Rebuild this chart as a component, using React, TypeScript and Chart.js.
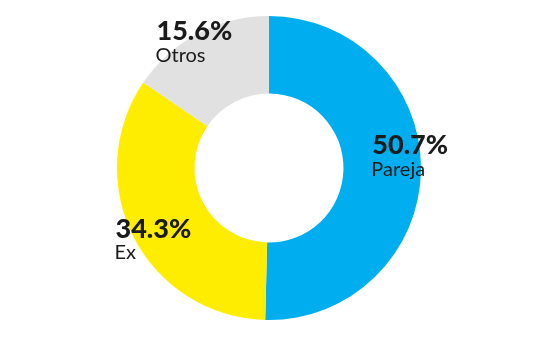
import React, { useEffect, useRef } from "react";
import { Chart, registerables } from "chart.js";

Chart.register(...registerables);

const categories = ["Pareja", "Ex", "Otros"];
const values = [50.7, 34.3, 15.6];
const valueLabels = ["50.7%", "34.3%", "15.6%"];
const colors = ["#00AEEF", "#FFED00", "#E1E1E2"];
// label anchor offsets relative to chart centre, in units of outer radius
const labelOffsets = [
  [0.68, -0.15],
  [-1.01, 0.4],
  [-0.74, -0.9],
];

const labelPlugin = {
  id: "sliceLabels",
  afterDatasetsDraw(chart: any) {
    const meta = chart.getDatasetMeta(0);
    const arc = meta.data[0];
    if (!arc) return;
    const { x, y, outerRadius } = arc.getProps(["x", "y", "outerRadius"], true);
    const ctx = chart.ctx;
    ctx.save();
    ctx.textAlign = "left";
    ctx.textBaseline = "middle";
    ctx.fillStyle = "#1b1b1b";
    categories.forEach((cat, i) => {
      const lx = x + labelOffsets[i][0] * outerRadius;
      const ly = y + labelOffsets[i][1] * outerRadius;
      ctx.font = "900 27px Lato";
      ctx.fillText(valueLabels[i], lx, ly);
      ctx.font = "400 20px Lato";
      ctx.fillText(cat, lx - 1, ly + 24);
    });
    ctx.restore();
  },
};

export default function App() {
  const ref = useRef<HTMLCanvasElement>(null);
  useEffect(() => {
    document.body.style.margin = "0";
    const chart = new Chart(ref.current!, {
      type: "doughnut",
      data: {
        labels: categories,
        datasets: [
          {
            data: values,
            backgroundColor: colors,
            borderWidth: 0,
          },
        ],
      },
      options: {
        animation: false,
        responsive: true,
        maintainAspectRatio: false,
        cutout: "49%",
        layout: { padding: { top: 16, bottom: 30, left: 0, right: 8 } },
        plugins: {
          legend: { display: false },
          tooltip: { enabled: false },
        },
      },
      plugins: [labelPlugin],
    });
    return () => chart.destroy();
  }, []);
  return (
    <div style={{ width: 546, height: 350, position: "relative", background: "#fff" }}>
      <canvas ref={ref} />
    </div>
  );
}
